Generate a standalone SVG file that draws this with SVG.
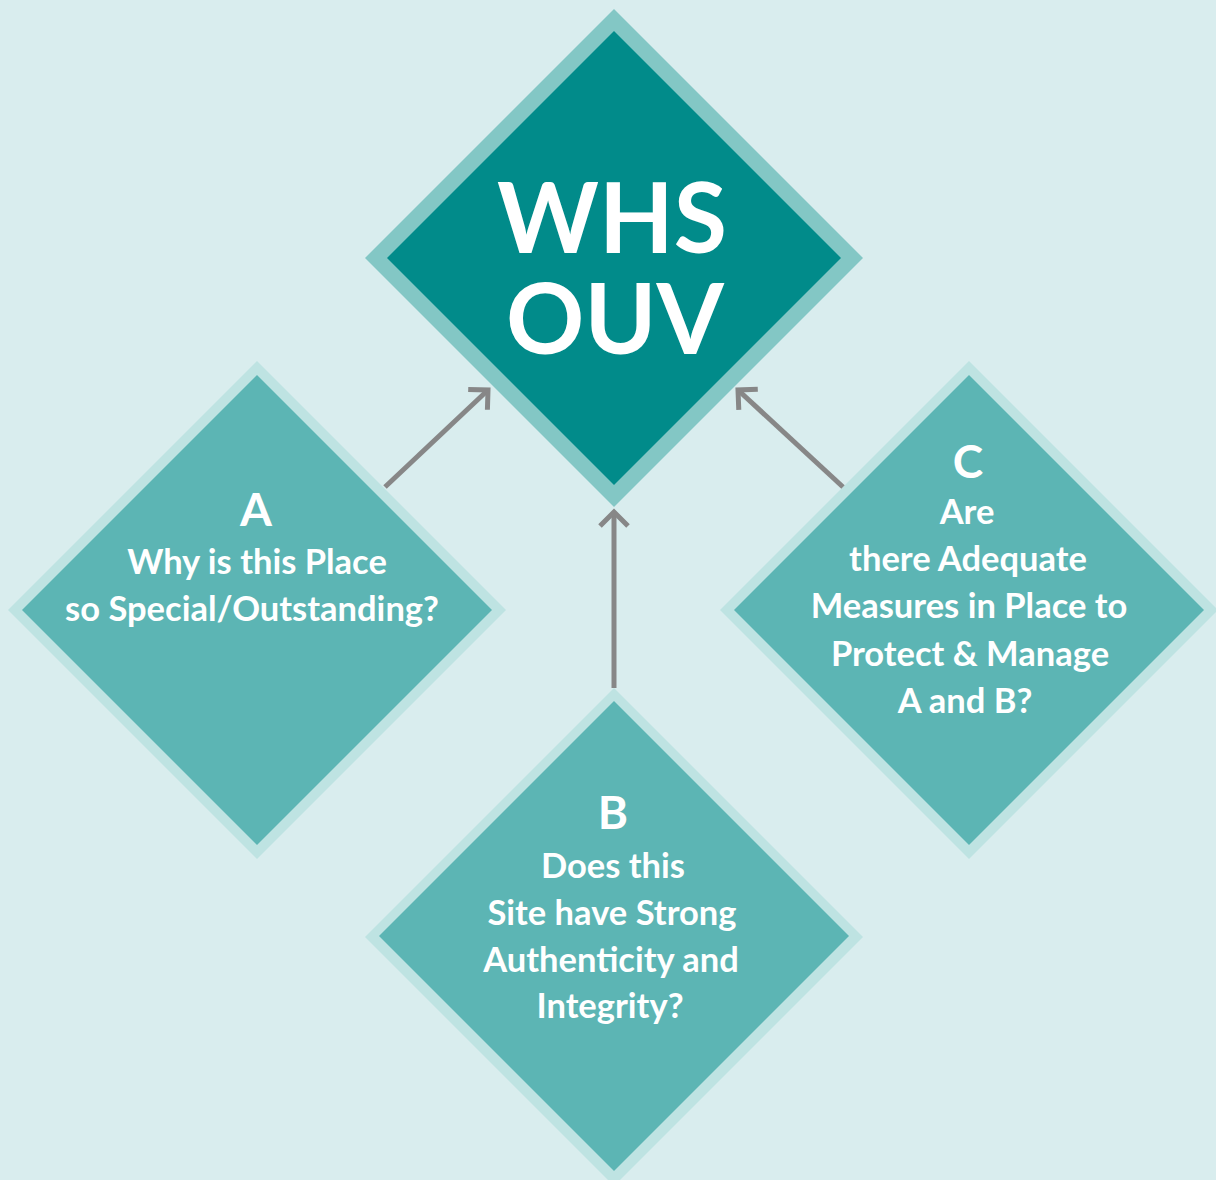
<svg xmlns="http://www.w3.org/2000/svg" width="1216" height="1180" viewBox="0 0 1216 1180">
<defs>
<style>
.bg{fill:#D9EDEE}
.mainOuter{fill:#83C7C5}
.mainInner{fill:#018B8A}
.subOuter{fill:#BEE3E2}
.subInner{fill:#5CB5B4}
.t{font-family:Lato,"Open Sans","Liberation Sans",sans-serif;font-weight:700;fill:#FFFFFF;text-anchor:middle}
.big{font-size:97px}
.letter{font-size:46px}
.body{font-size:34.5px}
.conn{stroke:#878787;stroke-width:5;fill:none}
</style>
<marker id="arrow" markerUnits="userSpaceOnUse" markerWidth="40" markerHeight="40" viewBox="-20 -20 40 40" refX="0" refY="0" orient="auto">
<path d="M-14,-14 L0,0 L-14,14" fill="none" stroke="#878787" stroke-width="5" stroke-linejoin="miter"/>
</marker>
</defs>
<rect class="bg" x="0" y="0" width="1216" height="1180"/>

<g id="node-whs-ouv">
<polygon class="mainOuter" points="614,9 863,258 614,507 365,258"/>
<polygon class="mainInner" points="614,31 841,258 614,485 387,258"/>
<text class="t big"><tspan x="612" y="253">WHS</tspan><tspan x="615" y="354">OUV</tspan></text>
</g>

<g id="node-a">
<polygon class="subOuter" points="257,361 506,610 257,859 8,610"/>
<polygon class="subInner" points="257,375 492,610 257,845 22,610"/>
<text class="t letter" x="256" y="526">A</text>
<text class="t body"><tspan x="257" y="574">Why is this Place</tspan><tspan x="252" y="621">so Special/Outstanding?</tspan></text>
</g>

<g id="node-b">
<polygon class="subOuter" points="614,688 863,937 614,1186 365,937"/>
<polygon class="subInner" points="614,701 849,936 614,1171 379,936"/>
<text class="t letter" x="613" y="829">B</text>
<text class="t body"><tspan x="613" y="878">Does this</tspan><tspan x="612" y="925">Site have Strong</tspan><tspan x="611" y="972">Authenticity and</tspan><tspan x="610" y="1018">Integrity?</tspan></text>
</g>

<g id="node-c">
<polygon class="subOuter" points="969,361 1218,610 969,859 720,610"/>
<polygon class="subInner" points="969,375 1204,610 969,845 734,610"/>
<text class="t letter" x="968" y="478">C</text>
<text class="t body"><tspan x="967" y="524">Are</tspan><tspan x="968" y="571">there Adequate</tspan><tspan x="969" y="618">Measures in Place to</tspan><tspan x="970" y="666">Protect &amp; Manage</tspan><tspan x="965" y="713">A and B?</tspan></text>
</g>

<g id="connectors">
<line class="conn" x1="385" y1="487" x2="488" y2="390" marker-end="url(#arrow)"/>
<line class="conn" x1="614" y1="688" x2="614" y2="512" marker-end="url(#arrow)"/>
<line class="conn" x1="843" y1="487" x2="738" y2="390" marker-end="url(#arrow)"/>
</g>
</svg>
